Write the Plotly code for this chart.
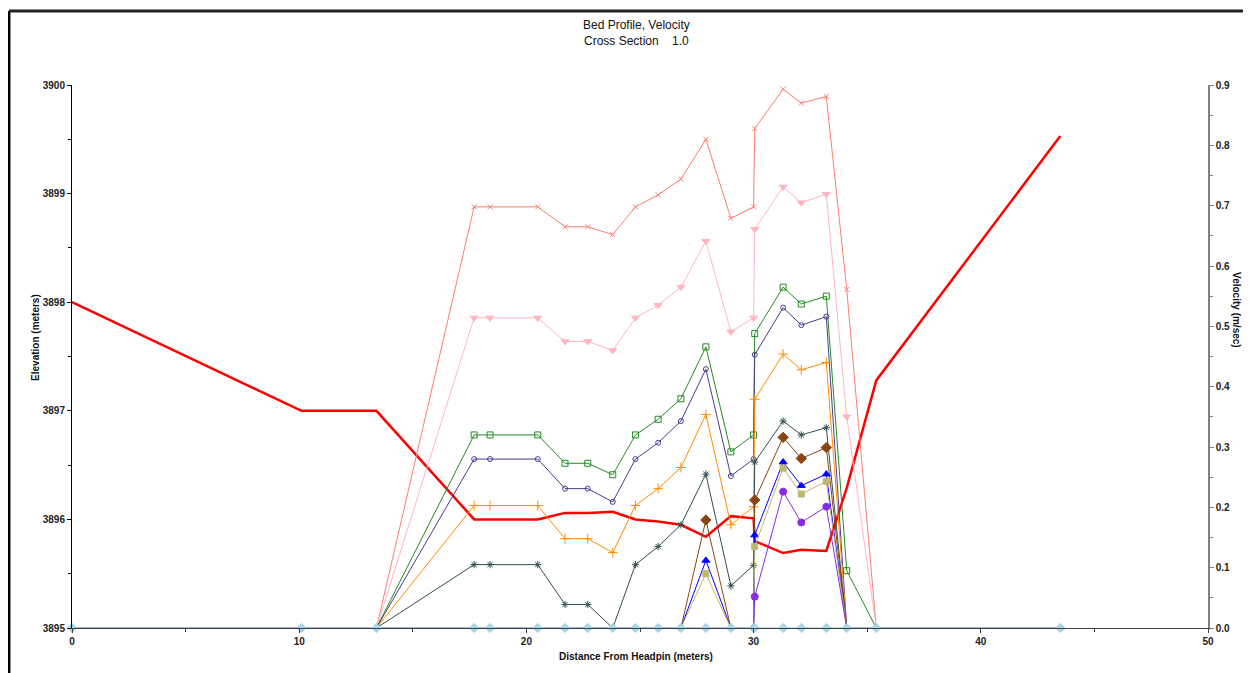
import plotly.graph_objects as go

# Stations (distance from headpin, m)
stations = [0, 10.1, 13.4, 17.7, 18.4, 20.5, 21.7, 22.7, 23.8, 24.8, 25.8, 26.8,
            27.9, 29.0, 30.0, 30.05, 31.3, 32.1, 33.2, 34.1, 35.4, 43.5]

# Bed elevation (m)
bed = [3898.0, 3897.0, 3897.0, 3896.0, 3896.0, 3896.0, 3896.06, 3896.06, 3896.07,
       3896.0, 3895.98, 3895.95, 3895.84, 3896.03, 3896.01, 3895.80, 3895.69,
       3895.72, 3895.71, 3896.29, 3897.28, 3899.53]

# Velocity series (m/s)
v_salmon = [0, 0, 0, 0.698, 0.698, 0.698, 0.665, 0.665, 0.652, 0.698, 0.718, 0.744,
            0.810, 0.679, 0.698, 0.828, 0.893, 0.870, 0.881, 0.561, 0, 0]
v_pink = [0, 0, 0, 0.514, 0.514, 0.514, 0.475, 0.475, 0.460, 0.514, 0.535, 0.565,
          0.641, 0.491, 0.514, 0.661, 0.731, 0.705, 0.719, 0.350, 0, 0]
v_green = [0, 0, 0, 0.320, 0.320, 0.320, 0.273, 0.273, 0.254, 0.320, 0.346, 0.380,
           0.466, 0.292, 0.320, 0.488, 0.565, 0.537, 0.550, 0.095, 0, 0]
v_navy = [0, 0, 0, 0.280, 0.280, 0.280, 0.231, 0.231, 0.209, 0.280, 0.307, 0.343,
          0.429, 0.252, 0.280, 0.453, 0.531, 0.502, 0.516, 0, 0, 0]
v_orange = [0, 0, 0, 0.203, 0.203, 0.203, 0.148, 0.148, 0.125, 0.203, 0.231, 0.266,
            0.354, 0.171, 0.201, 0.379, 0.454, 0.428, 0.440, 0, 0, 0]
v_slate = [0, 0, 0, 0.105, 0.105, 0.105, 0.039, 0.039, 0, 0.105, 0.135, 0.171,
           0.255, 0.070, 0.104, 0.275, 0.343, 0.320, 0.332, 0, 0, 0]
v_brown = [0, 0, 0, 0, 0, 0, 0, 0, 0, 0, 0, 0,
           0.179, 0, 0, 0.212, 0.316, 0.281, 0.299, 0, 0, 0]
v_blue = [0, 0, 0, 0, 0, 0, 0, 0, 0, 0, 0, 0,
          0.112, 0, 0, 0.154, 0.275, 0.236, 0.255, 0, 0, 0]
v_khaki = [0, 0, 0, 0, 0, 0, 0, 0, 0, 0, 0, 0,
           0.090, 0, 0, 0.135, 0.265, 0.222, 0.243, 0, 0, 0]
v_purple = [0, 0, 0, 0, 0, 0, 0, 0, 0, 0, 0, 0,
            0, 0, 0, 0.052, 0.226, 0.175, 0.201, 0, 0, 0]
v_zero = [0] * len(stations)

series = [
    (v_salmon, "salmon", "x-thin-open", 5),
    (v_pink, "lightpink", "triangle-down", 7),
    (v_green, "forestgreen", "square-open", 6),
    (v_navy, "darkslateblue", "circle-open", 5),
    (v_orange, "darkorange", "cross-thin-open", 7),
    (v_slate, "darkslategray", "asterisk-open", 6),
    (v_brown, "saddlebrown", "diamond", 8),
    (v_blue, "blue", "triangle-up", 7),
    (v_khaki, "darkkhaki", "square", 6),
    (v_purple, "blueviolet", "circle", 7),
]

FONT = "Liberation Sans, Arial, sans-serif"

fig = go.Figure()
for vals, col, sym, sz in series:
    sizes = [sz if v > 0 else 0 for v in vals]
    fig.add_trace(go.Scatter(
        x=stations, y=vals, yaxis="y2", mode="lines+markers",
        line=dict(color=col, width=1),
        marker=dict(color=col, symbol=sym, size=sizes, opacity=1,
                    line=dict(color=col, width=1)),
        cliponaxis=False, showlegend=False))

# zero-velocity baseline series
fig.add_trace(go.Scatter(
    x=stations, y=v_zero, yaxis="y2", mode="lines+markers",
    line=dict(color="lightblue", width=1.5),
    marker=dict(color="lightblue", symbol="diamond", size=7, opacity=1,
                line=dict(color="#9ccbe0", width=1)),
    cliponaxis=False, showlegend=False))

fig.add_trace(go.Scatter(
    x=stations, y=bed, yaxis="y", mode="lines",
    line=dict(color="red", width=2.5), showlegend=False, cliponaxis=False))

tickfont = dict(family=FONT, size=10, color="#222222", weight="bold")

# the page body adds an 8px offset; sizes compensate so the plot area lands at 72..1208 x 85..628
fig.update_layout(
    width=1243, height=665,
    margin=dict(l=64, r=43, t=77, b=45),
    paper_bgcolor="white", plot_bgcolor="white",
    showlegend=False,
    xaxis=dict(range=[0, 50], tickvals=[0, 10, 20, 30, 40, 50], showgrid=False,
               zeroline=False, showline=True, linecolor="#404040", linewidth=1,
               ticks="outside", ticklen=4, tickcolor="#404040", tickfont=tickfont,
               minor=dict(dtick=5, ticks="outside", ticklen=3, tickcolor="#404040")),
    yaxis=dict(range=[3895, 3900], tickvals=[3895, 3896, 3897, 3898, 3899, 3900],
               showgrid=False, zeroline=False, showline=True, linecolor="black",
               linewidth=1, ticks="outside", ticklen=4, tickcolor="black",
               tickfont=tickfont,
               minor=dict(dtick=0.5, ticks="outside", ticklen=3, tickcolor="black")),
    yaxis2=dict(range=[0, 0.9], overlaying="y", side="right", dtick=0.1,
                tickformat=".1f", showgrid=False, zeroline=False, showline=True,
                linecolor="#808080", linewidth=1.5, ticks="outside", ticklen=4,
                tickcolor="#808080", tickfont=tickfont,
                minor=dict(dtick=0.05, ticks="outside", ticklen=3, tickcolor="#808080")),
    annotations=[
        dict(text="Bed Profile, Velocity<br>Cross Section\u00a0\u00a0\u00a0\u00a01.0",
             xref="paper", yref="paper", x=0.4965, y=1.0958, xanchor="center",
             yanchor="middle", showarrow=False,
             font=dict(family=FONT, size=12, color="#111111")),
        dict(text="Elevation (meters)", xref="paper", yref="paper", x=-0.0317, y=0.536,
             textangle=-90, showarrow=False, xanchor="center", yanchor="middle",
             font=dict(family=FONT, size=10, color="#111111", weight="bold")),
        dict(text="Velocity (m/sec)", xref="paper", yref="paper", x=1.0255, y=0.5856,
             textangle=90, showarrow=False, xanchor="center", yanchor="middle",
             font=dict(family=FONT, size=10, color="#111111", weight="bold")),
        dict(text="Distance From Headpin (meters)", xref="paper", yref="paper",
             x=0.4965, y=-0.0516, showarrow=False, xanchor="center", yanchor="middle",
             font=dict(family=FONT, size=10, color="#111111", weight="bold")),
    ],
    shapes=[
        dict(type="line", xref="paper", yref="paper", x0=-0.0555, x1=-0.0555,
             y0=-0.2, y1=1.1363, line=dict(color="black", width=3)),
        dict(type="line", xref="paper", yref="paper", x0=-0.0555, x1=1.2,
             y0=1.1363, y1=1.1363, line=dict(color="#222222", width=3)),
    ],
)

fig.write_html("out.html")
